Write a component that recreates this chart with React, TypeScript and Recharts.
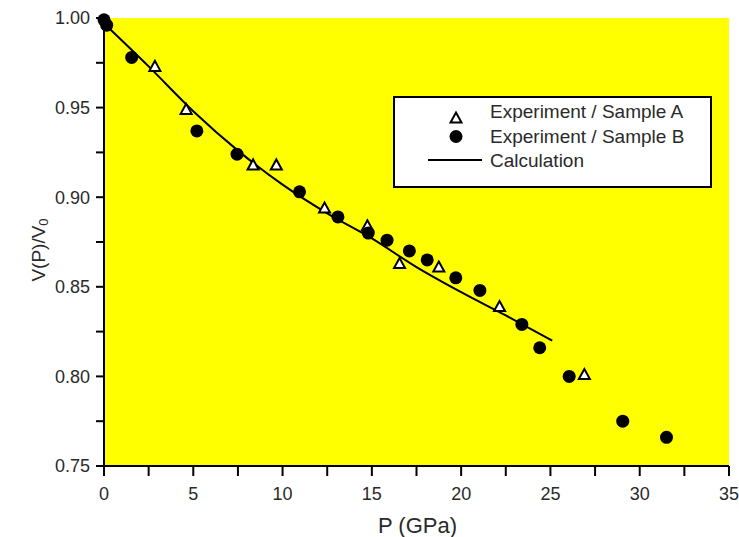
import React from 'react';
import { ComposedChart, Scatter, Line, XAxis, YAxis, CartesianGrid, Legend } from 'recharts';

// Experiment / Sample A (open triangles)
const sampleAP = [2.85, 4.6, 8.35, 9.65, 12.35, 14.75, 16.55, 18.75, 22.15, 26.9];
const sampleAV = [0.973, 0.949, 0.918, 0.918, 0.894, 0.884, 0.863, 0.861, 0.839, 0.801];

// Experiment / Sample B (filled circles)
const sampleBP = [0, 0.15, 1.55, 5.2, 7.45, 10.95, 13.1, 14.8, 15.85, 17.1, 18.1, 19.7, 21.05, 23.4, 24.4, 26.05, 29.05, 31.5];
const sampleBV = [0.999, 0.996, 0.978, 0.937, 0.924, 0.903, 0.889, 0.880, 0.876, 0.870, 0.865, 0.855, 0.848, 0.829, 0.816, 0.800, 0.775, 0.766];

// Calculation (solid line)
const calcP = [0, 2.5, 5, 7.5, 10, 12.5, 15, 17.5, 20, 22.5, 25.1];
const calcV = [0.997, 0.973, 0.948, 0.926, 0.907, 0.891, 0.877, 0.861, 0.847, 0.834, 0.820];

const xTicks = [0, 2.5, 5, 7.5, 10, 12.5, 15, 17.5, 20, 22.5, 25, 27.5, 30, 32.5, 35];
const yTicks = [0.75, 0.775, 0.8, 0.825, 0.85, 0.875, 0.9, 0.925, 0.95, 0.975, 1.0];

const legendLabels = ['Experiment / Sample A', 'Experiment / Sample B', 'Calculation'];

const dataA = sampleAP.map((p, i) => ({ p, v: sampleAV[i] }));
const dataB = sampleBP.map((p, i) => ({ p, v: sampleBV[i] }));
const dataCalc = calcP.map((p, i) => ({ p, v: calcV[i] }));

const FONT = '"Liberation Sans", Arial, sans-serif';
const TEXT = '#2a2a2a';

const TriangleShape = (props: any) => {
  const { cx, cy } = props;
  if (cx == null || cy == null) return null;
  const w = 5.5;
  const pts = `${cx - w},${cy + 4.5} ${cx + w},${cy + 4.5} ${cx},${cy - 5.5}`;
  return <polygon points={pts} fill="#ffffff" stroke="#000" strokeWidth={2} strokeLinejoin="miter" />;
};

const CircleShape = (props: any) => {
  const { cx, cy } = props;
  if (cx == null || cy == null) return null;
  return <circle cx={cx} cy={cy} r={6.5} fill="#000" />;
};

const XTick = (props: any) => {
  const { x, y, payload } = props;
  const v = payload.value;
  if (Math.abs(v / 5 - Math.round(v / 5)) > 1e-6) return null;
  return (
    <text x={x} y={y} dy="0.71em" textAnchor="middle" fontSize={18} fontFamily={FONT} fill={TEXT}>
      {String(v)}
    </text>
  );
};

const YTick = (props: any) => {
  const { x, y, payload } = props;
  const v = payload.value;
  if (Math.abs(v * 20 - Math.round(v * 20)) > 1e-6) return null;
  return (
    <text x={x} y={y} dy="0.355em" textAnchor="end" fontSize={18} fontFamily={FONT} fill={TEXT}>
      {v.toFixed(2)}
    </text>
  );
};

const YLabel = (props: any) => {
  const vb = props.viewBox || { x: 0, y: 18, width: 104, height: 448 };
  const cx = vb.x + 38;
  const cy = vb.y + vb.height / 2 + 8;
  return (
    <text
      x={cx}
      y={cy}
      transform={`rotate(-90, ${cx}, ${cy})`}
      textAnchor="middle"
      dominantBaseline="central"
      fontSize={19}
      fontFamily={FONT}
      fill={TEXT}
    >
      V(P)/V<tspan fontSize={13} dy={5}>0</tspan>
    </text>
  );
};

const XLabel = (props: any) => {
  const vb = props.viewBox || { x: 104, y: 466, width: 625, height: 71 };
  const cx = vb.x + vb.width / 2 + 1;
  return (
    <text x={cx} y={533} textAnchor="middle" fontSize={22} fontFamily={FONT} fill={TEXT}>
      P (GPa)
    </text>
  );
};

const LegendBox = () => (
  <div
    style={{
      width: 319,
      height: 92,
      boxSizing: 'border-box',
      border: '2px solid #000',
      background: '#ffffff',
    }}
  >
    <svg width={315} height={88} style={{ display: 'block' }}>
      <polygon points="55.5,24.5 66.5,24.5 61,14.5" fill="#fff" stroke="#000" strokeWidth={2} />
      <circle cx={61} cy={38.5} r={6.5} fill="#000" />
      <line x1={33} y1={62} x2={87} y2={62} stroke="#000" strokeWidth={2} />
      {legendLabels.map((t, i) => (
        <text key={t} x={95} y={20 + i * 24.5} fontSize={19} fontFamily={FONT} fill={TEXT}>
          {t}
        </text>
      ))}
    </svg>
  </div>
);

export default function App() {
  return (
    <div style={{ position: 'fixed', left: 0, top: 0, width: 739, height: 537, background: '#fff' }}>
      <ComposedChart width={739} height={537} margin={{ top: 18, right: 10, bottom: 0, left: 0 }}>
        <CartesianGrid horizontal={false} vertical={false} fill="#ffff00" stroke="none" />
        <XAxis
          type="number"
          dataKey="p"
          domain={[0, 35]}
          ticks={xTicks}
          interval={0}
          height={71}
          tickSize={10}
          tickMargin={11}
          tick={<XTick />}
          axisLine={{ stroke: '#000', strokeWidth: 2 }}
          tickLine={{ stroke: '#000', strokeWidth: 2 }}
          allowDecimals
          label={<XLabel />}
        />
        <YAxis
          type="number"
          dataKey="v"
          domain={[0.75, 1.0]}
          ticks={yTicks}
          interval={0}
          width={104}
          tickSize={8}
          tickMargin={6}
          tick={<YTick />}
          axisLine={{ stroke: '#000', strokeWidth: 2 }}
          tickLine={{ stroke: '#000', strokeWidth: 2 }}
          label={<YLabel />}
        />
        <Legend
          layout="vertical"
          align="center"
          verticalAlign="middle"
          wrapperStyle={{ left: 393, top: 96, width: 319, height: 92 }}
          content={() => <LegendBox />}
        />
        <Line
          data={dataCalc}
          dataKey="v"
          type="monotone"
          stroke="#000"
          strokeWidth={2}
          dot={false}
          activeDot={false}
          isAnimationActive={false}
          name="Calculation"
        />
        <Scatter data={dataA} dataKey="v" shape={<TriangleShape />} isAnimationActive={false} name="Experiment / Sample A" />
        <Scatter data={dataB} dataKey="v" shape={<CircleShape />} isAnimationActive={false} name="Experiment / Sample B" />
      </ComposedChart>
    </div>
  );
}
